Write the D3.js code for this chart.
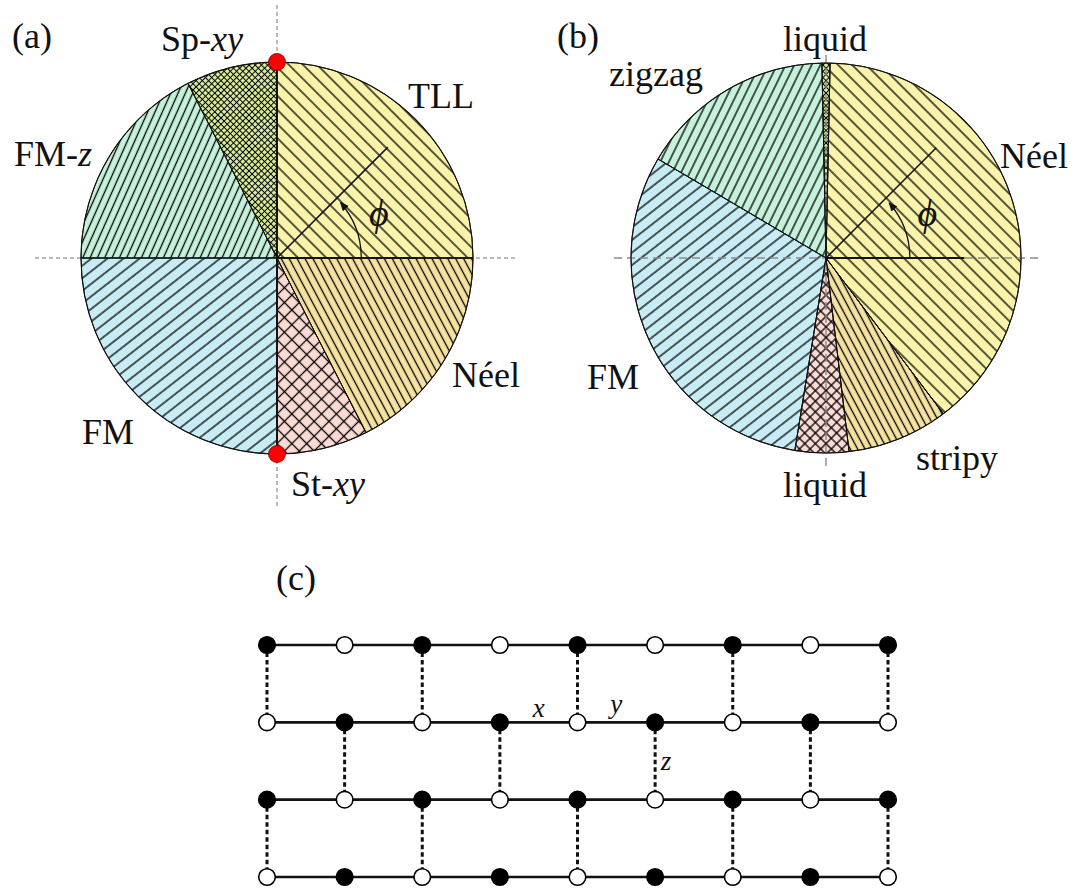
<!DOCTYPE html>
<html>
<head>
<meta charset="utf-8">
<script src="https://cdn.jsdelivr.net/npm/d3@7"></script>
<style>
  body { margin: 0; background: #fff; }
  svg { display: block; }
  text { font-family: "Liberation Serif", "DejaVu Serif", serif; fill: #111; }
</style>
</head>
<body>
<svg id="fig" width="1086" height="888"></svg>
<script>
// (a) phase boundaries, angle phi in degrees
var phasesA = ["TLL", "Sp-xy", "FM-z", "FM", "St-xy", "Néel"];
var boundsA = [0, 90, 117, 180, 270, 297, 360];
var dotsA = [90, 270];

// (b) phase boundaries
var phasesB = ["Néel", "liquid", "zigzag", "FM", "liquid", "stripy"];
var boundsB = [-53, 88.8, 91.2, 149.5, 260.8, 276.8, 307];

// (c) lattice: 1 = filled site, 0 = open site
var siteRows = [
    [1, 0, 1, 0, 1, 0, 1, 0, 1],
    [0, 1, 0, 1, 0, 1, 0, 1, 0],
    [1, 0, 1, 0, 1, 0, 1, 0, 1],
    [0, 1, 0, 1, 0, 1, 0, 1, 0]
];
// z bonds: [upper row, column]
var zBonds = [
    [0, 0], [0, 2], [0, 4], [0, 6], [0, 8],
    [1, 1], [1, 3], [1, 5], [1, 7],
    [2, 0], [2, 2], [2, 4], [2, 6], [2, 8]
];
var bondNames = ["x", "y", "z"];
var bondPos = [[3.5, 1], [4.5, 1], [5, 1.5]];

// look of each phase: fill colour + hatch
var looks = {
    "TLL":    { fill: "#f9f4a9", hatch: "h45" },
    "Sp-xy":  { fill: "#dcef9f", hatch: "hFine" },
    "FM-z":   { fill: "#c6f2dc", hatch: "hSteepUp" },
    "FM":     { fill: "#c8ecf4", hatch: "hUp40" },
    "St-xy":  { fill: "#fddbd5", hatch: "hCross" },
    "NéelA":  { fill: "#f6e3a2", hatch: "hSteepDown" },
    "NéelB":  { fill: "#f9f4a9", hatch: "h45" },
    "liqTop": { fill: "#dcef9f", hatch: "hFine" },
    "zigzag": { fill: "#c6f2dc", hatch: "hSteepUp2" },
    "liqBot": { fill: "#fddbd5", hatch: "hCross2" },
    "stripy": { fill: "#f6e3a2", hatch: "hSteepDown2" }
};

var svg = d3.select("#fig");
var defs = svg.append("defs");

function hatch(id, gap, angle, cross, lw) {
    var p = defs.append("pattern")
        .attr("id", id)
        .attr("patternUnits", "userSpaceOnUse")
        .attr("width", gap)
        .attr("height", gap)
        .attr("patternTransform", "rotate(" + angle + ")");
    p.append("line")
        .attr("x1", -1).attr("y1", gap / 2).attr("x2", gap + 1).attr("y2", gap / 2)
        .attr("stroke", "#000").attr("stroke-width", lw);
    if (cross) {
        p.append("line")
            .attr("x1", gap / 2).attr("y1", -1).attr("x2", gap / 2).attr("y2", gap + 1)
            .attr("stroke", "#000").attr("stroke-width", lw);
    }
}
hatch("h45", 10, 45, false, 1.3);
hatch("hFine", 4.4, 45, true, 1.0);
hatch("hSteepUp", 6.7, -66, false, 1.3);
hatch("hSteepUp2", 7.8, -64, false, 1.3);
hatch("hUp40", 9.9, -38, false, 1.3);
hatch("hCross", 10.5, 45, true, 1.3);
hatch("hCross2", 7.5, 45, true, 1.3);
hatch("hSteepDown", 7.0, 62, false, 1.3);
hatch("hSteepDown2", 6.5, 62, false, 1.3);

defs.append("marker")
    .attr("id", "arrow")
    .attr("markerUnits", "userSpaceOnUse")
    .attr("viewBox", "0 -4 8 8")
    .attr("refX", 7).attr("refY", 0)
    .attr("markerWidth", 9).attr("markerHeight", 9)
    .attr("orient", "auto")
    .append("path").attr("d", "M0,-3.5L8,0L0,3.5Z").attr("fill", "#111");

// phi (deg, counter-clockwise from +x) -> d3 arc angle
var toArc = d3.scaleLinear().domain([0, 360]).range([Math.PI / 2, Math.PI / 2 - 2 * Math.PI]);

function phaseDisk(cx, cy, R, names, bounds, lookKeys, dashStyle, dashOnTop) {
    var g = svg.append("g");
    var toRad = d3.scaleLinear().domain([0, 360]).range([0, 2 * Math.PI]);
    var px = function (a, r) { return cx + r * Math.cos(toRad(a)); };
    var py = function (a, r) { return cy - r * Math.sin(toRad(a)); };

    var axes = function (parent) {
        parent.append("line")
            .attr("x1", dashStyle.h[0]).attr("x2", dashStyle.h[1])
            .attr("y1", cy).attr("y2", cy)
            .attr("stroke", dashStyle.color).attr("stroke-width", dashStyle.w)
            .attr("stroke-dasharray", dashStyle.dash);
        parent.append("line")
            .attr("x1", cx).attr("x2", cx)
            .attr("y1", dashStyle.v[0]).attr("y2", dashStyle.v[1])
            .attr("stroke", dashStyle.color).attr("stroke-width", dashStyle.w)
            .attr("stroke-dasharray", dashStyle.dash);
    };
    if (!dashOnTop) axes(g);

    var wedges = names.map(function (n, i) {
        return { name: n, start: bounds[i], end: bounds[i + 1], look: looks[lookKeys[i]] };
    });
    var arc = d3.arc()
        .innerRadius(0)
        .outerRadius(R)
        .startAngle(function (d) { return toArc(d.end); })
        .endAngle(function (d) { return toArc(d.start); });

    var wg = g.append("g").attr("transform", "translate(" + cx + "," + cy + ")");
    wg.selectAll("path.fill")
        .data(wedges)
        .enter()
        .append("path")
        .attr("class", "fill")
        .attr("d", arc)
        .attr("fill", function (d) { return d.look.fill; });
    wg.selectAll("path.hatch")
        .data(wedges)
        .enter()
        .append("path")
        .attr("class", "hatch")
        .attr("d", arc)
        .attr("fill", function (d) { return "url(#" + d.look.hatch + ")"; })
        .attr("stroke", "#111")
        .attr("stroke-width", 0.9);

    if (dashOnTop) axes(g);

    // boundaries
    g.selectAll("line.bnd")
        .data(bounds)
        .enter()
        .append("line")
        .attr("class", "bnd")
        .attr("x1", cx).attr("y1", cy)
        .attr("x2", function (d) { return px(d, R); })
        .attr("y2", function (d) { return py(d, R); })
        .attr("stroke", "#111")
        .attr("stroke-width", 1);
    g.append("circle")
        .attr("cx", cx).attr("cy", cy).attr("r", R)
        .attr("fill", "none").attr("stroke", "#111").attr("stroke-width", 1.1);

    // phi indicator
    g.append("line")
        .attr("x1", cx).attr("y1", cy).attr("x2", px(0, 0.71 * R)).attr("y2", cy)
        .attr("stroke", "#111").attr("stroke-width", 2.2);
    g.append("line")
        .attr("x1", cx).attr("y1", cy).attr("x2", px(45, 0.8 * R)).attr("y2", py(45, 0.8 * R))
        .attr("stroke", "#111").attr("stroke-width", 1.5);
    var p = d3.path();
    p.moveTo(px(0, 0.43 * R), cy);
    p.arc(cx, cy, 0.43 * R, 0, -toRad(41), true);
    g.append("path")
        .attr("d", p.toString())
        .attr("fill", "none").attr("stroke", "#111").attr("stroke-width", 1.3)
        .attr("marker-end", "url(#arrow)");
    g.append("text")
        .attr("x", px(22, 0.56 * R)).attr("y", py(22, 0.56 * R) + 9)
        .attr("text-anchor", "middle")
        .style("font-size", "38px")
        .style("font-style", "italic")
        .text("ϕ");
    return { g: g, px: px, py: py };
}

function label(x, y, plain, ital, anchor) {
    var t = svg.append("text")
        .attr("x", x).attr("y", y)
        .attr("text-anchor", anchor || "start")
        .style("font-size", "36px");
    t.append("tspan").text(plain);
    if (ital) t.append("tspan").style("font-style", "italic").text(ital);
    return t;
}

// ---- panel (a)
var RA = 196, cxA = 277, cyA = 258;
var diskA = phaseDisk(cxA, cyA, RA, phasesA, boundsA,
    ["TLL", "Sp-xy", "FM-z", "FM", "St-xy", "NéelA"],
    { h: [35, 517], v: [5, 507], color: "#555", w: 0.8, dash: "4,3" }, false);
// thicker vertical axis
diskA.g.append("line")
    .attr("x1", cxA).attr("x2", cxA).attr("y1", cyA - RA).attr("y2", cyA + RA)
    .attr("stroke", "#111").attr("stroke-width", 1.8);
diskA.g.selectAll("circle.dot")
    .data(dotsA)
    .enter()
    .append("circle")
    .attr("class", "dot")
    .attr("cx", function (d) { return diskA.px(d, RA); })
    .attr("cy", function (d) { return diskA.py(d, RA); })
    .attr("r", 8.5)
    .attr("fill", "#ff0000")
    .attr("stroke", "#7a0000")
    .attr("stroke-width", 0.8);

label(12, 48, "(a)");
label(161, 51, "Sp-", "xy");
label(408, 108, "TLL");
label(14, 166, "FM-", "z");
label(452, 387, "Néel");
label(82, 444, "FM");
label(291, 496, "St-", "xy");

// ---- panel (b)
var RB = 195, cxB = 826, cyB = 258;
phaseDisk(cxB, cyB, RB, phasesB, boundsB,
    ["NéelB", "liqTop", "zigzag", "FM", "liqBot", "stripy"],
    { h: [614, 1040], v: [55, 468], color: "#8a8a8a", w: 1.4, dash: "8,5" }, true);

label(557, 48, "(b)");
label(825, 51, "liquid", null, "middle");
label(609, 86, "zigzag");
label(1000, 168, "Néel");
label(587, 389, "FM");
label(916, 470, "stripy");
label(825, 497, "liquid", null, "middle");

// ---- panel (c) lattice
var xL = d3.scaleLinear().domain([0, 8]).range([267, 888]);
var yL = d3.scaleLinear().domain([0, 3]).range([645, 877]);
var gc = svg.append("g");

label(276, 590, "(c)");

gc.selectAll("line.row")
    .data(siteRows)
    .enter()
    .append("line")
    .attr("class", "row")
    .attr("x1", xL(0)).attr("x2", function (d) { return xL(d.length - 1); })
    .attr("y1", function (d, i) { return yL(i); })
    .attr("y2", function (d, i) { return yL(i); })
    .attr("stroke", "#111").attr("stroke-width", 2.6);

gc.selectAll("line.zb")
    .data(zBonds)
    .enter()
    .append("line")
    .attr("class", "zb")
    .attr("x1", function (d) { return xL(d[1]); })
    .attr("x2", function (d) { return xL(d[1]); })
    .attr("y1", function (d) { return yL(d[0]); })
    .attr("y2", function (d) { return yL(d[0] + 1); })
    .attr("stroke", "#111").attr("stroke-width", 3)
    .attr("stroke-dasharray", "4.5,3");

var sites = [];
siteRows.forEach(function (row, r) {
    row.forEach(function (v, c) { sites.push({ r: r, c: c, v: v }); });
});
gc.selectAll("circle.site")
    .data(sites)
    .enter()
    .append("circle")
    .attr("class", "site")
    .attr("cx", function (d) { return xL(d.c); })
    .attr("cy", function (d) { return yL(d.r); })
    .attr("r", 8.3)
    .attr("fill", function (d) { return d.v ? "#000" : "#fff"; })
    .attr("stroke", "#000")
    .attr("stroke-width", 1.6);

gc.selectAll("text.bond")
    .data(bondNames)
    .enter()
    .append("text")
    .attr("class", "bond")
    .attr("x", function (d, i) { return xL(bondPos[i][0]) + (d === "z" ? 11 : 0); })
    .attr("y", function (d, i) { return yL(bondPos[i][1]) + (d === "z" ? 9 : (d === "y" ? -9 : -5)); })
    .attr("text-anchor", "middle")
    .style("font-size", "27px")
    .style("font-style", "italic")
    .text(function (d) { return d; });
</script>
</body>
</html>
